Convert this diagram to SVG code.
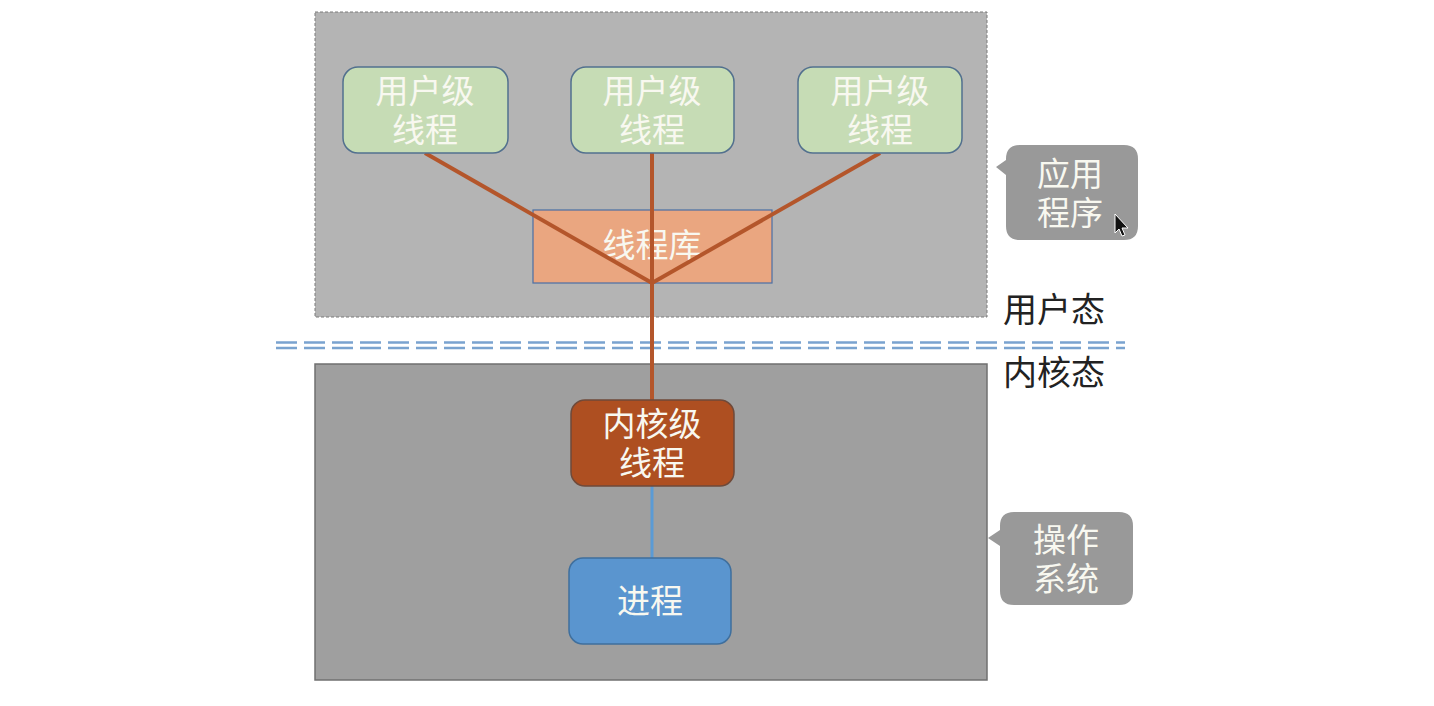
<svg xmlns="http://www.w3.org/2000/svg" width="1434" height="706" viewBox="0 0 1434 706">
<style>
text{font-family:"Liberation Sans","Noto Sans CJK SC",sans-serif;text-anchor:middle;dominant-baseline:central}
.w{fill:#f8f8f0;font-size:33px}
.k{fill:#222;font-size:34px;text-anchor:start}
.ut{fill:#c6dcb5;stroke:#52708e;stroke-width:1.5}
.conn{stroke:#b4562b;stroke-width:4;fill:none}
.call{fill:#999999}
</style>
<rect width="1434" height="706" fill="#ffffff"/>
<g id="app-region">
<rect x="315" y="12" width="672" height="305" fill="#b4b4b4" stroke="#7a7a7a" stroke-width="1" stroke-dasharray="3,2"/>
</g>
<g id="os-region">
<rect x="315" y="364" width="672" height="316" fill="#9f9f9f" stroke="#707070" stroke-width="1.5"/>
</g>
<g id="divider">
<line x1="276" y1="342.5" x2="1125" y2="342.5" stroke="#7aa3cf" stroke-width="2.5" stroke-dasharray="21,7"/>
<line x1="276" y1="348" x2="1125" y2="348" stroke="#7aa3cf" stroke-width="2.5" stroke-dasharray="21,7"/>
</g>
<g id="lib">
<rect x="533" y="210" width="239" height="73" fill="#eaa680" stroke="#4a6fa5" stroke-width="1.2"/>
<text class="w" x="652" y="245">线程库</text>
</g>
<g id="connectors">
<line class="conn" x1="425" y1="153" x2="652" y2="283"/>
<line class="conn" x1="652" y1="153" x2="652" y2="283"/>
<line class="conn" x1="880" y1="153" x2="652" y2="283"/>
<line class="conn" x1="652" y1="283" x2="652" y2="401"/>
<line x1="652" y1="486" x2="652" y2="559" stroke="#5b9bd5" stroke-width="3"/>
</g>
<g id="ult1">
<rect class="ut" x="343" y="67" width="165" height="86" rx="15"/>
<text class="w"><tspan x="425" y="91">用户级</tspan><tspan x="425" y="130">线程</tspan></text>
</g>
<g id="ult2">
<rect class="ut" x="571" y="67" width="163" height="86" rx="15"/>
<text class="w"><tspan x="652" y="91">用户级</tspan><tspan x="652" y="130">线程</tspan></text>
</g>
<g id="ult3">
<rect class="ut" x="798" y="67" width="164" height="86" rx="15"/>
<text class="w"><tspan x="880" y="91">用户级</tspan><tspan x="880" y="130">线程</tspan></text>
</g>
<g id="klt">
<rect x="571" y="400" width="163" height="86" rx="14" fill="#ae4f21" stroke="#6f4a3a" stroke-width="1.5"/>
<text class="w"><tspan x="652" y="424">内核级</tspan><tspan x="652" y="463">线程</tspan></text>
</g>
<g id="proc">
<rect x="569" y="558" width="162" height="86" rx="14" fill="#5a95cf" stroke="#3f6f9d" stroke-width="1.5"/>
<text class="w" x="650" y="601">进程</text>
</g>
<g id="label-user">
<text class="k" x="1003" y="310">用户态</text>
</g>
<g id="label-kernel">
<text class="k" x="1003" y="373">内核态</text>
</g>
<g id="callout-app">
<path class="call" d="M1020,145 H1124 Q1138,145 1138,159 V226 Q1138,240 1124,240 H1020 Q1006,240 1006,226 V175 L996,167 L1006,160 V159 Q1006,145 1020,145 Z"/>
<text class="w"><tspan x="1070" y="174">应用</tspan><tspan x="1070" y="213">程序</tspan></text>
<path d="M1115,214 L1115,233 L1119,229 L1122,236 L1125,235 L1122,228 L1128,228 Z" fill="#111" stroke="#fff" stroke-width="1"/>
</g>
<g id="callout-os">
<path class="call" d="M1014,512 H1119 Q1133,512 1133,526 V591 Q1133,605 1119,605 H1014 Q1000,605 1000,591 V546 L988,538 L1000,530 V526 Q1000,512 1014,512 Z"/>
<text class="w"><tspan x="1066" y="540">操作</tspan><tspan x="1066" y="579">系统</tspan></text>
</g>
</svg>
